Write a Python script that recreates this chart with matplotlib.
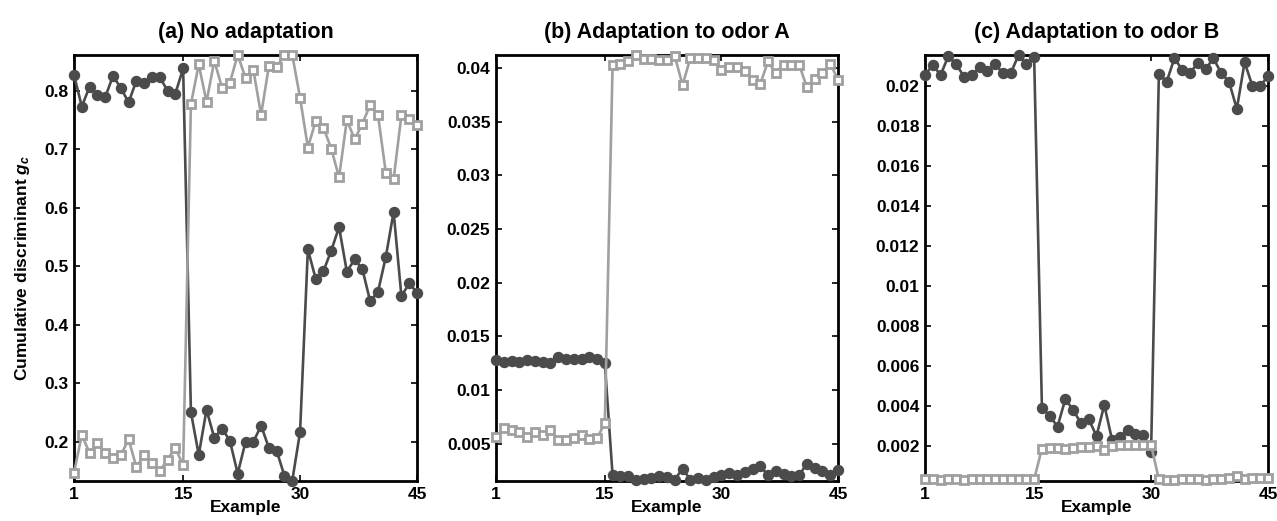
import numpy as np
import matplotlib
matplotlib.use('Agg')
from matplotlib import pyplot as plt
from matplotlib.ticker import FormatStrFormatter

plt.rcParams['font.family'] = ['Liberation Sans', 'DejaVu Sans']
plt.rcParams['font.weight'] = 'bold'
plt.rcParams['mathtext.fontset'] = 'custom'
plt.rcParams['mathtext.rm'] = 'Liberation Sans:bold'
plt.rcParams['mathtext.it'] = 'Liberation Sans:bold:italic'

examples = np.arange(1, 46)
x_ticks = [1, 15, 30, 45]

titles = ['(a) No adaptation', '(b) Adaptation to odor A', '(c) Adaptation to odor B']

# panel (a)
a_dark = [0.827, 0.773, 0.807, 0.792, 0.789, 0.825, 0.805, 0.780, 0.817, 0.814, 0.824, 0.823, 0.800, 0.795, 0.838,
          0.251, 0.178, 0.255, 0.207, 0.223, 0.202, 0.146, 0.200, 0.200, 0.228, 0.190, 0.185, 0.142, 0.134, 0.217,
          0.529, 0.479, 0.492, 0.527, 0.567, 0.491, 0.512, 0.495, 0.440, 0.457, 0.516, 0.593, 0.449, 0.471, 0.455]
a_light = [0.147, 0.2125, 0.181, 0.198, 0.182, 0.173, 0.177, 0.205, 0.157, 0.177, 0.164, 0.150, 0.170, 0.190, 0.160,
           0.777, 0.845, 0.781, 0.851, 0.805, 0.814, 0.861, 0.822, 0.836, 0.759, 0.842, 0.841, 0.861, 0.861, 0.788,
           0.703, 0.748, 0.737, 0.701, 0.652, 0.750, 0.717, 0.744, 0.776, 0.758, 0.660, 0.649, 0.758, 0.751, 0.741]
a_yticks = [0.2, 0.3, 0.4, 0.5, 0.6, 0.7, 0.8]

# panel (b)
b_dark = [0.0128, 0.0126, 0.0127, 0.0126, 0.0128, 0.0127, 0.0126, 0.0125, 0.0131, 0.0129, 0.0129, 0.0129, 0.0131, 0.0129, 0.0125,
          0.00205, 0.00196, 0.00196, 0.00158, 0.00174, 0.0018, 0.00196, 0.0019, 0.00165, 0.00267, 0.00165, 0.0018, 0.00158, 0.0019, 0.00211,
          0.00227, 0.00211, 0.00236, 0.00261, 0.00292, 0.00205, 0.00245, 0.0022, 0.00196, 0.00205, 0.00314, 0.00276, 0.00242, 0.00205, 0.00251]
b_light = [0.0056, 0.00646, 0.00624, 0.0061, 0.0056, 0.0061, 0.0058, 0.0063, 0.0053, 0.0053, 0.0055, 0.0058, 0.0054, 0.0055, 0.0069,
           0.0403, 0.0404, 0.0406, 0.0412, 0.0408, 0.0408, 0.0407, 0.0407, 0.0411, 0.0384, 0.0409, 0.0409, 0.0409, 0.0407, 0.0398,
           0.0401, 0.0401, 0.0397, 0.0389, 0.0385, 0.0406, 0.0395, 0.0403, 0.0403, 0.0403, 0.0382, 0.0390, 0.0395, 0.0404, 0.0389]
b_yticks = [0.005, 0.01, 0.015, 0.02, 0.025, 0.03, 0.035, 0.04]

# panel (c)
c_dark = [0.02053, 0.02103, 0.02053, 0.02148, 0.02107, 0.02045, 0.02053, 0.02092, 0.02075, 0.02107, 0.02062, 0.02062, 0.02153, 0.02107, 0.02145,
          0.0039, 0.0035, 0.00297, 0.00434, 0.0038, 0.00314, 0.00334, 0.0025, 0.00405, 0.0023, 0.00245, 0.00278, 0.0026, 0.00255, 0.0017,
          0.02057, 0.0202, 0.02137, 0.02078, 0.02062, 0.02115, 0.02082, 0.02137, 0.02062, 0.0202, 0.01883, 0.02117, 0.01998, 0.01998, 0.02048]
c_light = [0.00033, 0.00033, 0.00031, 0.00033, 0.00033, 0.00032, 0.00033, 0.00033, 0.00033, 0.00033, 0.00033, 0.00033, 0.00033, 0.00033, 0.00033,
           0.00187, 0.0019, 0.00192, 0.00185, 0.00192, 0.00195, 0.00195, 0.00198, 0.0018, 0.002, 0.00204, 0.00206, 0.00205, 0.00206, 0.00206,
           0.00033, 0.0003, 0.00032, 0.00033, 0.00035, 0.00033, 0.00032, 0.00036, 0.00036, 0.00038, 0.0005, 0.00036, 0.00038, 0.00038, 0.00038]
c_yticks = [0.002, 0.004, 0.006, 0.008, 0.01, 0.012, 0.014, 0.016, 0.018, 0.02]

panels = [
    (a_dark, a_light, a_yticks, (0.1334, 0.861)),
    (b_dark, b_light, b_yticks, (0.00152, 0.0412)),
    (c_dark, c_light, c_yticks, (0.00025, 0.02153)),
]
boxes = [(74, 343), (496, 342), (925, 343)]

DARK = '#4b4b4b'
LIGHT = '#a0a0a0'

fig = plt.figure(figsize=(12.77, 5.21), dpi=100)
W, H = 1277, 521
for i, (dark, light, yticks, ylim) in enumerate(panels):
    left, width = boxes[i]
    ax = fig.add_axes([left / W, 1 - 481 / H, width / W, 426 / H])
    ax.plot(examples, dark, '-o', color=DARK, lw=1.9, ms=7.2, mfc=DARK, mec=DARK, clip_on=False, zorder=3)
    ax.plot(examples, light, '-s', color=LIGHT, lw=1.9, ms=5.6, mfc='white', mec=LIGHT, mew=2.0, clip_on=False, zorder=4)
    ax.set_xlim(1, 45)
    ax.set_ylim(*ylim)
    ax.set_xticks(x_ticks)
    ax.set_yticks(yticks)
    ax.yaxis.set_major_formatter(FormatStrFormatter('%g'))
    ax.tick_params(direction='in', top=True, right=True, length=4, width=1.2, labelsize=12.5, pad=4)
    for s in ax.spines.values():
        s.set_linewidth(2)
    ax.set_title(titles[i], fontsize=15.5, fontweight='bold', pad=12)
    ax.set_xlabel('Example', fontsize=12.5, fontweight='bold', labelpad=-1)
    if i == 0:
        ax.set_ylabel(r'Cumulative discriminant $g_c$', fontsize=12.5, fontweight='bold', labelpad=9)

fig.savefig('out.png', dpi=100)
